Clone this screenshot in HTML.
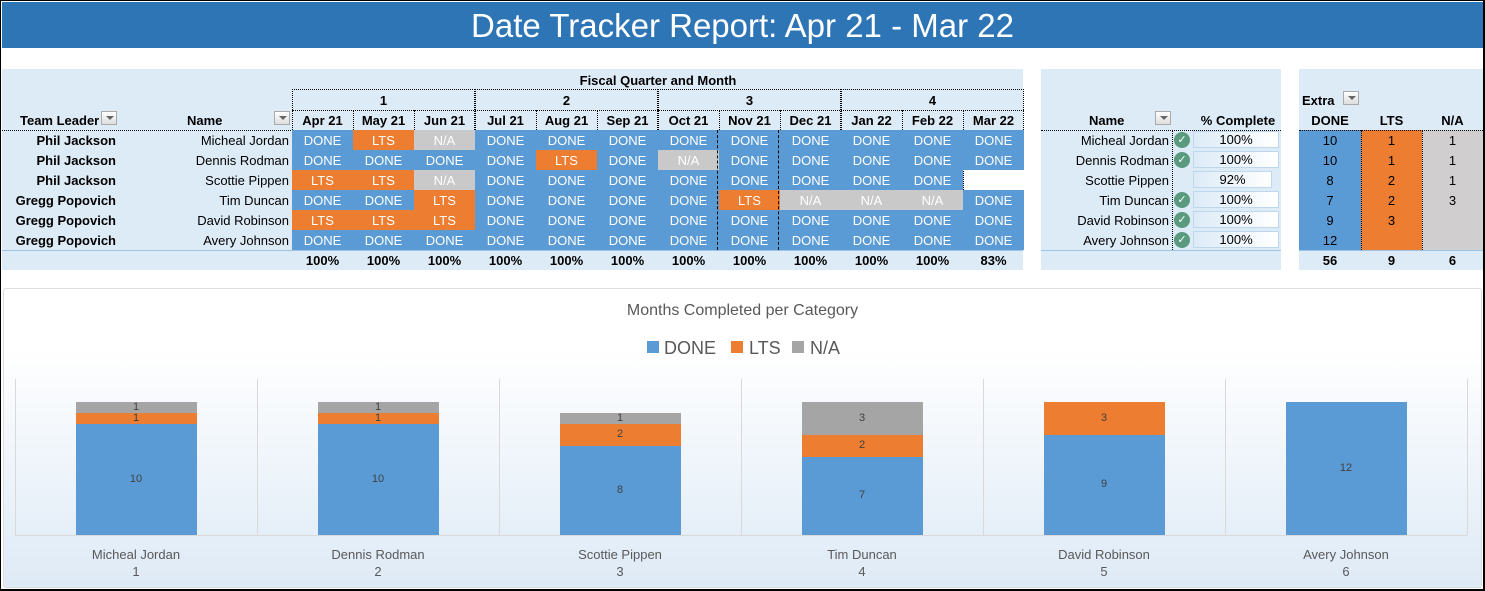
<!DOCTYPE html>
<html><head><meta charset="utf-8"><style>
*{margin:0;padding:0;box-sizing:border-box}
body{width:1485px;height:591px;background:#fff;font-family:"Liberation Sans",sans-serif;position:relative;overflow:hidden}
#frame{position:absolute;left:0;top:0;width:1485px;height:591px;border:1px solid #000;border-width:1px 2px 2px 1px}
.a{position:absolute}
.t{position:absolute;font-size:13px;line-height:20px;white-space:nowrap;padding-top:1px}
.b{font-weight:bold}
.c{text-align:center}
.r{text-align:right}
.cell{position:absolute;height:20px;font-size:13px;line-height:21px;text-align:center;color:#fff}
.D{background:#5B9BD5}.L{background:#ED7D31}.N{background:#C9C9C9}
.dd{position:absolute;width:16px;height:14px;border:1px solid #aaa;background:linear-gradient(#fff,#ddd)}
.dd:after{content:"";position:absolute;left:4px;top:4px;border:4px solid transparent;border-top:4px solid #666}
.chk{position:absolute;width:16px;height:16px;border-radius:50%;background:#5A9A7E;color:#fff;font-size:11px;line-height:16px;text-align:center}
.pb{position:absolute;height:17px;border:1px solid #BDD7EE;background:linear-gradient(90deg,#DDEBF7,#fff);font-size:13px;line-height:16px;text-align:center}
.lab{position:absolute;font-size:11px;color:#404040;text-align:center;width:120px}
.xl{position:absolute;font-size:13px;color:#595959;text-align:center;width:242px;line-height:17px}
</style></head><body>
<div class="a" style="left:2px;top:2px;width:1481px;height:46px;background:#2E75B6;color:#fff;font-size:33px;line-height:48px;text-align:center">Date Tracker Report: Apr 21 - Mar 22</div>
<div class="a" style="left:2px;top:69px;width:1021px;height:201px;background:#DDEBF7"></div>
<div class="a" style="left:1041px;top:69px;width:240px;height:201px;background:#DDEBF7"></div>
<div class="a" style="left:1299px;top:69px;width:184px;height:201px;background:#DDEBF7"></div>
<div id="g"></div>
<div class="a" style="left:3px;top:288px;width:1479px;height:300px;border:1px solid #ddd;border-radius:3px;background:linear-gradient(#fff,#fff 20%,#DEEAF6)"></div>
<div class="t c" style="left:0;width:1485px;top:300px;font-size:16px;color:#595959">Months Completed per Category</div>
<div class="a" style="left:647px;top:341px;width:12px;height:12px;background:#5B9BD5"></div>
<div class="t" style="left:664px;top:336px;font-size:18px;line-height:22px;color:#595959">DONE</div>
<div class="a" style="left:731px;top:341px;width:12px;height:12px;background:#ED7D31"></div>
<div class="t" style="left:749px;top:336px;font-size:18px;line-height:22px;color:#595959">LTS</div>
<div class="a" style="left:792px;top:341px;width:12px;height:12px;background:#A5A5A5"></div>
<div class="t" style="left:810px;top:336px;font-size:18px;line-height:22px;color:#595959">N/A</div>
<div class="a" style="left:15px;top:535px;width:1452px;height:1px;background:#D9D9D9"></div>
<div id="ch"></div>
<div id="frame"></div>
<script>
var g='';
function T(x,y,w,txt,cls,st){g+='<div class="t '+(cls||'')+'" style="left:'+x+'px;top:'+y+'px;width:'+w+'px;'+(st||'')+'">'+txt+'</div>';}
T(292,70,732,'Fiscal Quarter and Month','b c');
var mx=[];for(var i=0;i<=12;i++)mx.push(292+61*i);
for(var q=0;q<4;q++){T(mx[q*3],90,183,''+(q+1),'b c');
g+='<div class="a" style="left:'+mx[q*3]+'px;top:89px;width:183px;height:161px;border:1px dotted #000;border-bottom:none"></div>';}
var months=['Apr 21','May 21','Jun 21','Jul 21','Aug 21','Sep 21','Oct 21','Nov 21','Dec 21','Jan 22','Feb 22','Mar 22'];
for(i=0;i<12;i++){T(mx[i],110,61,months[i],'b c');g+='<div class="a" style="left:'+mx[i]+'px;top:110px;width:1px;height:140px;border-left:1px dotted #000"></div>';}
g+='<div class="a" style="left:292px;top:110px;width:732px;border-top:1px dotted #000"></div>';
g+='<div class="a" style="left:2px;top:130px;width:1021px;border-top:1px dotted #000"></div>';
g+='<div class="a" style="left:2px;top:250px;width:1021px;border-top:1px solid #9DC3E6"></div>';
T(20,110,100,'Team Leader','b');g+='<div class="dd" style="left:101px;top:111px"></div>';
T(187,110,60,'Name','b');g+='<div class="dd" style="left:274px;top:111px"></div>';
var rows=[['Phil Jackson','Micheal Jordan','DLNDDDDDDDDD'],['Phil Jackson','Dennis Rodman','DDDDLDNDDDDD'],['Phil Jackson','Scottie Pippen','LLNDDDDDDDD '],['Gregg Popovich','Tim Duncan','DDLDDDDLNNND'],['Gregg Popovich','David Robinson','LLLDDDDDDDDD'],['Gregg Popovich','Avery Johnson','DDDDDDDDDDDD']];
var lab={D:'DONE',L:'LTS',N:'N/A'};
for(var r=0;r<6;r++){var y=130+20*r;T(2,y,114,rows[r][0],'b r');T(150,y,139,rows[r][1],'r');
for(i=0;i<12;i++){var c=rows[r][2][i];if(c==' ')g+='<div class="cell" style="left:'+(mx[i]+1)+'px;top:'+y+'px;width:60px;background:#fff"></div>';else g+='<div class="cell '+c+'" style="left:'+mx[i]+'px;top:'+y+'px;width:61px">'+lab[c]+'</div>';}}
g+='<div class="a" style="left:717px;top:130px;width:2px;height:120px;border-left:1px dashed #000"></div><div class="a" style="left:778px;top:130px;width:2px;height:120px;border-left:1px dashed #000"></div>';
var pct=['100%','100%','100%','100%','100%','100%','100%','100%','100%','100%','100%','83%'];
for(i=0;i<12;i++)T(mx[i],250,61,pct[i],'b c');
T(1089,110,40,'Name','b');g+='<div class="dd" style="left:1155px;top:111px"></div>';
T(1193,110,90,'% Complete','b c');
g+='<div class="a" style="left:1041px;top:130px;width:240px;border-top:1px dotted #000"></div><div class="a" style="left:1041px;top:250px;width:240px;border-top:1px solid #9DC3E6"></div><div class="a" style="left:1172px;top:130px;height:120px;border-left:1px dotted #000"></div>';
var mp=['100%','100%','92%','100%','100%','100%'];
for(r=0;r<6;r++){y=130+20*r;T(1041,y,128,rows[r][1],'r');if(r!=2)g+='<div class="chk" style="left:1174px;top:'+(y+2)+'px">&#10003;</div>';
g+='<div class="pb" style="left:1193px;top:'+(y+1)+'px;width:'+(r==2?79:86)+'px">'+mp[r]+'</div>';}
T(1302,90,40,'Extra','b');g+='<div class="dd" style="left:1343px;top:91px"></div>';
T(1299,110,62,'DONE','b c');T(1361,110,61,'LTS','b c');T(1422,110,61,'N/A','b c');
g+='<div class="a D" style="left:1299px;top:130px;width:62px;height:120px"></div><div class="a L" style="left:1361px;top:130px;width:61px;height:120px"></div><div class="a" style="left:1422px;top:130px;width:61px;height:120px;background:#D0CECE"></div>';
g+='<div class="a" style="left:1299px;top:130px;width:184px;border-top:1px dotted #000"></div><div class="a" style="left:1299px;top:250px;width:184px;border-top:1px solid #9DC3E6"></div><div class="a" style="left:1361px;top:130px;height:120px;border-left:1px dotted #000"></div><div class="a" style="left:1422px;top:130px;height:120px;border-left:1px dotted #000"></div>';
var ex=[[10,1,1],[10,1,1],[8,2,1],[7,2,3],[9,3,''],[12,'','']];
for(r=0;r<6;r++){y=130+20*r;T(1299,y,62,ex[r][0],'c');T(1361,y,61,ex[r][1],'c');T(1422,y,61,ex[r][2],'c');}
T(1299,250,62,'56','b c');T(1361,250,61,'9','b c');T(1422,250,61,'6','b c');
document.getElementById('g').innerHTML=g;
var h='',u=133/12;
for(i=0;i<=6;i++)h+='<div class="a" style="left:'+(15+242*i)+'px;top:379px;width:1px;height:156px;background:#D9D9D9"></div>';
for(r=0;r<6;r++){var cx=15+242*r,bx=cx+61,base=535,v=ex[r],cols=['#5B9BD5','#ED7D31','#A5A5A5'];
for(var k=0;k<3;k++){if(v[k]==='')continue;var hh=v[k]*u;base-=hh;
h+='<div class="a" style="left:'+bx+'px;top:'+base+'px;width:121px;height:'+hh+'px;background:'+cols[k]+'"></div>';
h+='<div class="lab" style="left:'+bx+'px;top:'+(base+hh/2-7)+'px">'+v[k]+'</div>';}
h+='<div class="xl" style="left:'+cx+'px;top:546px">'+rows[r][1]+'<br>'+(r+1)+'</div>';}
document.getElementById('ch').innerHTML=h;
</script>
</body></html>
